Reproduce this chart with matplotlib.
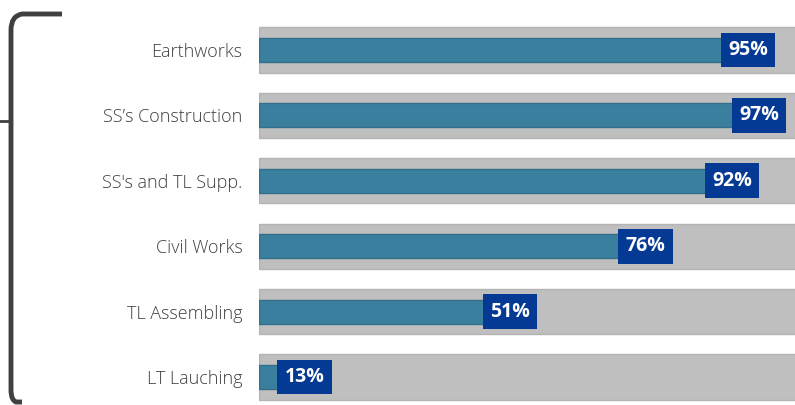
import matplotlib.pyplot as plt
from matplotlib.lines import Line2D
from matplotlib.path import Path
from matplotlib.patches import PathPatch

categories = ['Earthworks', 'SS’s Construction', "SS's and TL Supp.",
              'Civil Works', 'TL Assembling', 'LT Lauching']
progress = [0.95, 0.97, 0.92, 0.76, 0.51, 0.13]
labels = ['95%', '97%', '92%', '76%', '51%', '13%']

W, H = 795, 405
fig = plt.figure(figsize=(W / 100, H / 100), dpi=100)
ax = fig.add_axes([259 / W, 0, 1 - 259 / W, 1])

ypos = list(range(len(categories)))
full = [1.0] * len(categories)
ax.barh(ypos, full, height=0.69, color='#bfbfbf', edgecolor='#b3b3b3', linewidth=1)
ax.barh(ypos, progress, height=0.37, color='#3a809e', edgecolor='#336f8a', linewidth=1)

for y, v, lab in zip(ypos, progress, labels):
    ax.text(v - 0.009, y, lab, ha='right', va='center', color='white',
            fontsize=14, fontweight='bold', family='Open Sans',
            bbox=dict(boxstyle='square,pad=0.38', facecolor='#053a94', edgecolor='none'))

ax.set_xlim(0, (W - 259) / 541)
ax.set_ylim((H - 50) / 65.4, -50 / 65.4)
ax.set_yticks(ypos)
ax.set_yticklabels(categories, fontsize=13, color='#404040', family='Open Sans',
                   fontweight='light')
ax.tick_params(axis='y', length=0, pad=12)
ax.set_xticks([])
for s in ax.spines.values():
    s.set_visible(False)

# bracket on the left
def px(x, y):
    return (x / W, 1 - y / H)

verts = [px(62, 14), px(22, 14), px(11, 16), px(11, 30), px(11, 390),
         px(11, 400), px(16, 402), px(22, 402)]
codes = [Path.MOVETO, Path.LINETO, Path.CURVE3, Path.CURVE3, Path.LINETO,
         Path.CURVE3, Path.CURVE3, Path.LINETO]
fig.patches.append(PathPatch(Path(verts, codes), transform=fig.transFigure,
                             fill=False, edgecolor='#404040', linewidth=3.5))
fig.lines.append(Line2D([0, 11 / W], [1 - 121 / H, 1 - 121 / H],
                        transform=fig.transFigure, color='#404040', linewidth=2))

fig.savefig('out.png', dpi=100)
